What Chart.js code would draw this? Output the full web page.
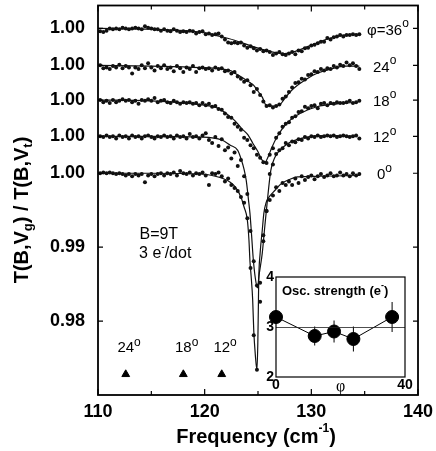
<!DOCTYPE html>
<html>
<head>
<meta charset="utf-8">
<script src="https://cdn.jsdelivr.net/npm/chart.js@4.4.0/dist/chart.umd.min.js"></script>
<style>
  body { margin: 0; background: #fff; }
  #wrap { position: relative; width: 436px; height: 451px; }
  #main { position: absolute; left: 0; top: 0; }
  #inset { position: absolute; left: 256px; top: 268px; }
</style>
</head>
<body>
<div id="wrap">
  <canvas id="main" width="436" height="451"></canvas>
  <canvas id="inset" width="160" height="127"></canvas>
</div>
<script>
// measured frequencies (cm-1), same grid for every angle
const freq = [
  110.2, 110.5, 110.8, 111.1, 111.4, 111.7, 112.0, 112.3, 112.6, 112.9,
  113.2, 113.5, 113.8, 114.1, 114.4, 114.7, 115.0, 115.3, 115.6, 115.9,
  116.2, 116.5, 116.8, 117.1, 117.4, 117.7, 118.0, 118.3, 118.6, 118.9,
  119.2, 119.5, 119.8, 120.1, 120.4, 120.7, 121.0, 121.3, 121.6, 121.9,
  122.2, 122.5, 122.8, 123.1, 123.4, 123.7, 124.0, 124.3, 124.6, 124.9,
  125.2, 125.5, 125.8, 126.1, 126.4, 126.7, 127.0, 127.3, 127.6, 127.9,
  128.2, 128.5, 128.8, 129.1, 129.4, 129.7, 130.0, 130.3, 130.6, 130.9,
  131.2, 131.5, 131.8, 132.1, 132.4, 132.7, 133.0, 133.3, 133.6, 133.9,
  134.2, 134.5
];

const angles = [0, 12, 18, 24, 36];
// vertical shift of each trace (all baselines read 1.00)
const offsets = [0, 0.0050, 0.0099, 0.0146, 0.0196];

// T(B,Vg)/T(B,Vt) data points
const dots0 = [
  1.0000, 1.0001, 1.0000, 1.0001, 1.0000, 0.9999, 1.0000, 0.9999, 0.9997, 0.9999,
  0.9996, 0.9999, 0.9997, 0.9999, 0.9988, 0.9997, 0.9999, 0.9996, 0.9999, 1.0000,
  0.9997, 1.0000, 0.9999, 1.0001, 0.9997, 1.0003, 1.0000, 0.9999, 1.0001, 0.9997,
  1.0000, 0.9999, 1.0001, 0.9997, 0.9984, 1.0000, 0.9999, 1.0001, 0.9996, 0.9989,
  0.9993, 0.9984, 0.9980, 0.9976, 0.9968, 0.9960, 0.9939, 0.9872, 0.9781, 0.9734,
  0.9826, 0.9916, 0.9949, 0.9964, 0.9970, 0.9981, 0.9976, 0.9987, 0.9984, 0.9989,
  0.9984, 0.9993, 0.9987, 0.9996, 0.9991, 0.9995, 0.9997, 0.9992, 0.9996, 0.9999,
  0.9995, 0.9997, 1.0000, 0.9996, 0.9997, 1.0001, 0.9997, 0.9999, 0.9996, 1.0000,
  0.9997, 0.9999
];
const dots12 = [
  1.0000, 0.9999, 1.0001, 0.9999, 1.0000, 0.9997, 1.0001, 0.9999, 1.0000, 0.9997,
  1.0001, 0.9999, 1.0000, 0.9997, 1.0000, 1.0001, 0.9999, 0.9997, 1.0000, 0.9999,
  1.0001, 0.9999, 1.0000, 0.9997, 1.0001, 0.9999, 1.0000, 0.9997, 1.0003, 0.9999,
  1.0000, 0.9997, 1.0001, 1.0004, 0.9995, 0.9991, 0.9999, 0.9987, 0.9996, 0.9981,
  0.9985, 0.9970, 0.9978, 0.9960, 0.9968, 0.9946, 0.9922, 0.9872, 0.9831, 0.9798,
  0.9802, 0.9858, 0.9899, 0.9949, 0.9962, 0.9976, 0.9981, 0.9984, 0.9991, 0.9988,
  0.9993, 0.9992, 0.9996, 0.9995, 0.9999, 0.9997, 1.0000, 0.9999, 1.0001, 0.9999,
  1.0000, 1.0001, 1.0000, 1.0001, 0.9999, 1.0000, 1.0001, 1.0000, 0.9999, 1.0000,
  1.0001, 0.9997
];
const dots18 = [
  1.0000, 0.9997, 0.9999, 0.9996, 1.0000, 0.9997, 0.9999, 1.0001, 0.9999, 1.0000,
  0.9997, 0.9999, 0.9995, 1.0000, 0.9999, 1.0001, 0.9999, 1.0003, 0.9997, 0.9999,
  1.0000, 0.9997, 0.9996, 0.9999, 0.9997, 0.9995, 0.9997, 0.9996, 0.9997, 0.9995,
  0.9996, 0.9993, 0.9996, 0.9993, 0.9995, 0.9991, 0.9992, 0.9988, 0.9987, 0.9982,
  0.9977, 0.9976, 0.9968, 0.9964, 0.9960, 0.9949, 0.9946, 0.9939, 0.9935, 0.9926,
  0.9922, 0.9916, 0.9915, 0.9926, 0.9935, 0.9949, 0.9955, 0.9964, 0.9968, 0.9970,
  0.9976, 0.9978, 0.9984, 0.9985, 0.9991, 0.9989, 0.9992, 0.9993, 0.9989, 0.9995,
  0.9996, 0.9993, 0.9996, 0.9995, 0.9997, 0.9996, 0.9996, 0.9997, 0.9999, 0.9996,
  0.9997, 0.9999
];
const dots24 = [
  1.0000, 0.9996, 0.9997, 0.9995, 0.9999, 0.9997, 1.0001, 0.9996, 0.9999, 0.9997,
  0.9989, 0.9997, 0.9995, 1.0000, 0.9996, 1.0003, 0.9997, 0.9993, 0.9999, 0.9996,
  1.0000, 0.9995, 0.9997, 0.9992, 0.9999, 0.9996, 0.9991, 0.9997, 0.9995, 0.9999,
  0.9991, 0.9996, 0.9997, 0.9995, 0.9996, 0.9993, 0.9997, 0.9995, 0.9996, 0.9992,
  0.9993, 0.9989, 0.9991, 0.9985, 0.9982, 0.9978, 0.9980, 0.9973, 0.9964, 0.9968,
  0.9960, 0.9951, 0.9945, 0.9946, 0.9943, 0.9945, 0.9947, 0.9955, 0.9958, 0.9964,
  0.9970, 0.9976, 0.9977, 0.9982, 0.9981, 0.9987, 0.9988, 0.9992, 0.9991, 0.9995,
  0.9993, 0.9996, 0.9995, 0.9999, 0.9997, 1.0001, 0.9999, 1.0004, 1.0000, 1.0003,
  0.9999, 0.9995
];
const dots36 = [
  0.9996, 0.9995, 0.9997, 1.0000, 0.9999, 1.0000, 0.9999, 1.0001, 1.0000, 0.9999,
  1.0000, 1.0001, 1.0000, 0.9999, 1.0003, 1.0001, 1.0000, 0.9999, 0.9999, 0.9997,
  0.9999, 0.9997, 0.9996, 0.9999, 0.9997, 0.9995, 0.9996, 0.9995, 0.9997, 0.9996,
  0.9993, 0.9995, 0.9996, 0.9992, 0.9993, 0.9991, 0.9992, 0.9993, 0.9989, 0.9985,
  0.9981, 0.9980, 0.9981, 0.9980, 0.9981, 0.9977, 0.9974, 0.9976, 0.9973, 0.9970,
  0.9972, 0.9969, 0.9970, 0.9968, 0.9964, 0.9966, 0.9968, 0.9965, 0.9964, 0.9966,
  0.9968, 0.9965, 0.9970, 0.9969, 0.9973, 0.9974, 0.9977, 0.9978, 0.9980, 0.9982,
  0.9982, 0.9987, 0.9985, 0.9988, 0.9989, 0.9991, 0.9989, 0.9991, 0.9991, 0.9992,
  0.9991, 0.9992
];

// fitted curves
const fit0X = [110.0, 114.9, 119.6, 120.7, 122.4, 122.9, 123.4, 123.7, 124.0, 124.15, 124.25, 124.35, 124.5, 124.6, 124.75, 124.9, 124.98, 125.03, 125.07, 125.2, 125.4, 125.55, 125.75, 126.1, 126.6, 127.1, 128.0, 128.7, 130.8, 134.5];
const fit0Y = [1.0000, 1.0000, 0.9999, 0.9997, 0.9988, 0.9981, 0.9968, 0.9954, 0.9937, 0.9910, 0.9880, 0.9862, 0.9829, 0.9788, 0.9754, 0.9734, 0.9768, 0.9815, 0.9856, 0.9892, 0.9923, 0.9946, 0.9960, 0.9969, 0.9977, 0.9985, 0.9992, 0.9995, 0.9996, 0.9997];
const fit12X = [110.0, 114.9, 119.6, 121.6, 122.4, 123.1, 123.4, 123.7, 123.9, 124.1, 124.25, 124.4, 124.55, 124.75, 124.95, 125.1, 125.4, 125.65, 125.85, 126.2, 126.6, 127.1, 127.4, 128.0, 129.6, 131.75, 134.3];
const fit12Y = [1.0000, 1.0000, 0.9999, 0.9995, 0.9988, 0.9981, 0.9970, 0.9955, 0.9940, 0.9915, 0.9895, 0.9866, 0.9835, 0.9808, 0.9795, 0.9812, 0.9842, 0.9880, 0.9909, 0.9954, 0.9972, 0.9982, 0.9986, 0.9992, 0.9999, 1.0001, 1.0000];
const fit18X = [110.0, 114.9, 120.0, 121.25, 122.2, 122.85, 123.5, 124.06, 124.5, 125.0, 125.37, 125.66, 125.94, 126.3, 126.78, 127.72, 128.94, 130.53, 132.4, 134.3];
const fit18Y = [1.0000, 0.9999, 0.9993, 0.9989, 0.9980, 0.9972, 0.9961, 0.9953, 0.9942, 0.9930, 0.9919, 0.9916, 0.9923, 0.9936, 0.9950, 0.9969, 0.9982, 0.9991, 0.9995, 0.9997];
const fit24X = [110.0, 115.0, 119.6, 122.4, 123.0, 123.8, 124.2, 124.6, 125.0, 125.4, 125.7, 126.0, 126.5, 127.0, 127.4, 128.0, 128.7, 129.5, 130.5, 131.8, 133.2, 134.5];
const fit24Y = [1.0000, 0.9999, 0.9997, 0.9993, 0.9988, 0.9981, 0.9977, 0.9973, 0.9965, 0.9957, 0.9947, 0.9945, 0.9945, 0.9946, 0.9953, 0.9964, 0.9973, 0.9981, 0.9989, 0.9995, 0.9999, 0.9999];
const fit36X = [110.0, 114.9, 119.6, 121.5, 122.8, 124.2, 125.3, 126.4, 127.5, 128.5, 129.4, 130.6, 131.8, 133.0, 134.5];
const fit36Y = [1.0000, 0.9999, 0.9995, 0.9989, 0.9984, 0.9977, 0.9972, 0.9968, 0.9966, 0.9969, 0.9974, 0.9981, 0.9987, 0.9991, 0.9992];

// triangles marking expected positions
const markerFreq = [112.6, 118.0, 121.6];
const markerAngle = [24, 18, 12];
const markerLevel = 0.9728;

// inset: oscillator strength vs angle
const phi = [0, 12, 18, 24, 36];
const oscStrength = [3.2, 2.82, 2.91, 2.76, 3.2];
const oscError = [0.08, 0.19, 0.22, 0.25, 0.3];
const oscMean = 2.99;

const yTickValues = [0.98, 0.99].concat(offsets.map(o => 1 + o));

const SANS = '"Liberation Sans", Arial, Helvetica, sans-serif';
Chart.defaults.font.family = SANS;
Chart.defaults.color = '#000';

const dotSets = [dots0, dots12, dots18, dots24, dots36];
const fitSets = [[fit0X, fit0Y], [fit12X, fit12Y], [fit18X, fit18Y], [fit24X, fit24Y], [fit36X, fit36Y]];

const datasets = [];
angles.forEach((a, k) => {
    datasets.push({
        label: a + ' fit',
        data: fitSets[k][0].map((x, i) => ({ x: x, y: fitSets[k][1][i] + offsets[k] })),
        showLine: true,
        borderColor: '#111',
        borderWidth: 1.2,
        pointRadius: 0,
        cubicInterpolationMode: 'monotone'
    });
    datasets.push({
        label: a + ' data',
        data: freq.map((f, i) => ({ x: f, y: dotSets[k][i] + offsets[k] })),
        backgroundColor: '#111',
        borderWidth: 0,
        pointRadius: 2
    });
});
datasets.push({
    label: 'markers',
    data: markerFreq.map(f => ({ x: f, y: markerLevel })),
    pointStyle: 'triangle',
    pointRadius: 4.5,
    backgroundColor: '#000',
    borderColor: '#000',
    borderWidth: 1
});

// draws a run of text pieces (for super/subscripts)
function drawParts(ctx, parts, x, y, align) {
    let w = 0;
    parts.forEach(p => { ctx.font = p.font; w += ctx.measureText(p.text).width; });
    let cx = align === 'center' ? x - w / 2 : x;
    ctx.textAlign = 'left';
    ctx.textBaseline = 'middle';
    parts.forEach(p => {
        ctx.font = p.font;
        ctx.fillText(p.text, cx, y + (p.dy || 0));
        cx += ctx.measureText(p.text).width;
    });
}

const f = (size, weight) => (weight || '') + ' ' + size + 'px ' + SANS;

// no automatic label padding, so the plot box sits where the layout says
function noPad(s) {
    s.paddingTop = 0; s.paddingBottom = 0; s.paddingLeft = 0; s.paddingRight = 0;
}

const mainDecor = {
    id: 'mainDecor',
    afterDraw(chart) {
        const { ctx, chartArea: a, scales: { x, y } } = chart;
        ctx.save();
        ctx.strokeStyle = '#000';
        ctx.fillStyle = '#000';
        ctx.lineWidth = 1.8;
        ctx.strokeRect(a.left, a.top, a.right - a.left, a.bottom - a.top);

        // inward ticks
        ctx.lineWidth = 1.2;
        ctx.beginPath();
        for (let v = 110; v <= 140; v += 5) {
            const px = x.getPixelForValue(v);
            const len = v % 10 === 0 ? 6 : 4;
            ctx.moveTo(px, a.bottom); ctx.lineTo(px, a.bottom - len);
            ctx.moveTo(px, a.top); ctx.lineTo(px, a.top + len);
        }
        yTickValues.forEach(v => {
            const py = y.getPixelForValue(v);
            ctx.moveTo(a.left, py); ctx.lineTo(a.left + 5, py);
            ctx.moveTo(a.right, py); ctx.lineTo(a.right - 5, py);
        });
        ctx.stroke();

        // angle labels on the right
        angles.forEach((ang, k) => {
            const py = y.getPixelForValue(1 + offsets[k]) + 2;
            const parts = [];
            let left = 373;
            if (ang === 36) { parts.push({ text: '\u03c6=', font: f(15) }); left = 367; }
            if (ang === 0) left = 377;
            parts.push({ text: String(ang), font: f(15) });
            parts.push({ text: 'o', font: f(12), dy: -7 });
            drawParts(ctx, parts, left, py, 'left');
        });

        // labels over the triangles
        markerFreq.forEach((fr, i) => {
            const px = x.getPixelForValue(fr);
            const py = y.getPixelForValue(markerLevel) - 26;
            ctx.font = f(15);
            const w = ctx.measureText(String(markerAngle[i])).width;
            drawParts(ctx, [
                { text: String(markerAngle[i]), font: f(15) },
                { text: 'o', font: f(12), dy: -6 }
            ], px - w / 2, py, 'left');
        });

        drawParts(ctx, [{ text: 'B=9T', font: f(16) }],
            x.getPixelForValue(115.7), y.getPixelForValue(0.9917), 'center');
        drawParts(ctx, [
            { text: '3 e', font: f(16) },
            { text: '-', font: f(10), dy: -6 },
            { text: '/dot', font: f(16) }
        ], x.getPixelForValue(116.3), y.getPixelForValue(0.9892), 'center');

        // axis titles
        drawParts(ctx, [
            { text: 'Frequency (cm', font: f(20, 'bold') },
            { text: '-1', font: f(12, 'bold'), dy: -8 },
            { text: ')', font: f(20, 'bold') }
        ], (a.left + a.right) / 2 - 2, 437, 'center');

        ctx.translate(22, 210);
        ctx.rotate(-Math.PI / 2);
        drawParts(ctx, [
            { text: 'T(B,V', font: f(20, 'bold') },
            { text: 'g', font: f(13, 'bold'), dy: 6 },
            { text: ') / T(B,V', font: f(20, 'bold') },
            { text: 't', font: f(13, 'bold'), dy: 6 },
            { text: ')', font: f(20, 'bold') }
        ], 0, 0, 'center');
        ctx.restore();
    }
};

new Chart(document.getElementById('main'), {
    type: 'scatter',
    data: { datasets: datasets },
    options: {
        responsive: false,
        animation: false,
        layout: { padding: { top: 5, right: 18, left: 0, bottom: 0 } },
        plugins: { legend: { display: false }, tooltip: { enabled: false } },
        scales: {
            x: {
                type: 'linear',
                min: 110,
                max: 140,
                grid: { display: false, drawTicks: false },
                border: { display: false },
                ticks: {
                    stepSize: 5,
                    autoSkip: false,
                    maxRotation: 0,
                    padding: 6,
                    font: { size: 18, weight: 'bold' },
                    callback: v => (v % 10 === 0 ? v : '')
                },
                afterFit: s => { s.height = 56; noPad(s); }
            },
            y: {
                type: 'linear',
                min: 0.9700,
                max: 1.0227,
                grid: { display: false, drawTicks: false },
                border: { display: false },
                afterBuildTicks: s => { s.ticks = yTickValues.map(v => ({ value: v })); },
                ticks: {
                    autoSkip: false,
                    padding: 13,
                    font: { size: 18, weight: 'bold' },
                    callback: v => (v >= 0.9995 ? '1.00' : v.toFixed(2))
                },
                afterFit: s => { s.width = 98; noPad(s); }
            }
        }
    },
    plugins: [mainDecor]
});

// ---- inset ----
const insetDecor = {
    id: 'insetDecor',
    beforeDatasetsDraw(chart) {
        const { ctx, scales: { x, y } } = chart;
        ctx.save();
        ctx.strokeStyle = '#000';
        ctx.lineWidth = 1;
        ctx.beginPath();
        phi.forEach((p, i) => {
            const px = x.getPixelForValue(p);
            ctx.moveTo(px, y.getPixelForValue(oscStrength[i] + oscError[i]));
            ctx.lineTo(px, y.getPixelForValue(oscStrength[i] - oscError[i]));
        });
        ctx.stroke();
        ctx.restore();
    },
    afterDraw(chart) {
        const { ctx, chartArea: a } = chart;
        ctx.save();
        ctx.strokeStyle = '#000';
        ctx.fillStyle = '#000';
        ctx.lineWidth = 1.2;
        ctx.strokeRect(a.left, a.top, a.right - a.left, a.bottom - a.top);
        drawParts(ctx, [
            { text: 'Osc. strength (e', font: f(13, 'bold') },
            { text: '-', font: f(9, 'bold'), dy: -5 },
            { text: ')', font: f(13, 'bold') }
        ], a.left + 6, a.top + 14, 'left');
        ctx.restore();
    }
};

new Chart(document.getElementById('inset'), {
    type: 'scatter',
    data: {
        datasets: [
            {
                label: 'mean',
                data: [{ x: 0, y: oscMean }, { x: 40, y: oscMean }],
                showLine: true,
                borderColor: '#222',
                borderWidth: 0.8,
                pointRadius: 0
            },
            {
                label: 'osc. strength',
                data: phi.map((p, i) => ({ x: p, y: oscStrength[i] })),
                showLine: true,
                borderColor: '#000',
                borderWidth: 1,
                backgroundColor: '#000',
                pointRadius: 6.5,
                clip: false
            }
        ]
    },
    options: {
        responsive: false,
        animation: false,
        layout: { padding: { top: 9, right: 11, left: 0, bottom: 0 } },
        plugins: { legend: { display: false }, tooltip: { enabled: false } },
        scales: {
            x: {
                type: 'linear',
                min: 0,
                max: 40,
                grid: { display: false, drawTicks: false },
                border: { display: false },
                afterBuildTicks: s => { s.ticks = [0, 20, 40].map(v => ({ value: v })); },
                ticks: {
                    autoSkip: false,
                    maxRotation: 0,
                    padding: 0,
                    font: c => (c.tick && c.tick.value === 20
                        ? { family: '"Liberation Serif", serif', size: 16, weight: 'normal' }
                        : { size: 14, weight: 'bold' }),
                    callback: v => (v === 20 ? '\u03c6' : String(v))
                },
                afterFit: s => { s.height = 18; noPad(s); }
            },
            y: {
                type: 'linear',
                min: 2,
                max: 4,
                grid: { display: false, drawTicks: false },
                border: { display: false },
                afterBuildTicks: s => { s.ticks = [2, 3, 4].map(v => ({ value: v })); },
                ticks: {
                    autoSkip: false,
                    padding: 2,
                    font: { size: 14, weight: 'bold' }
                },
                afterFit: s => { s.width = 20; noPad(s); }
            }
        }
    },
    plugins: [insetDecor]
});
</script>
</body>
</html>
